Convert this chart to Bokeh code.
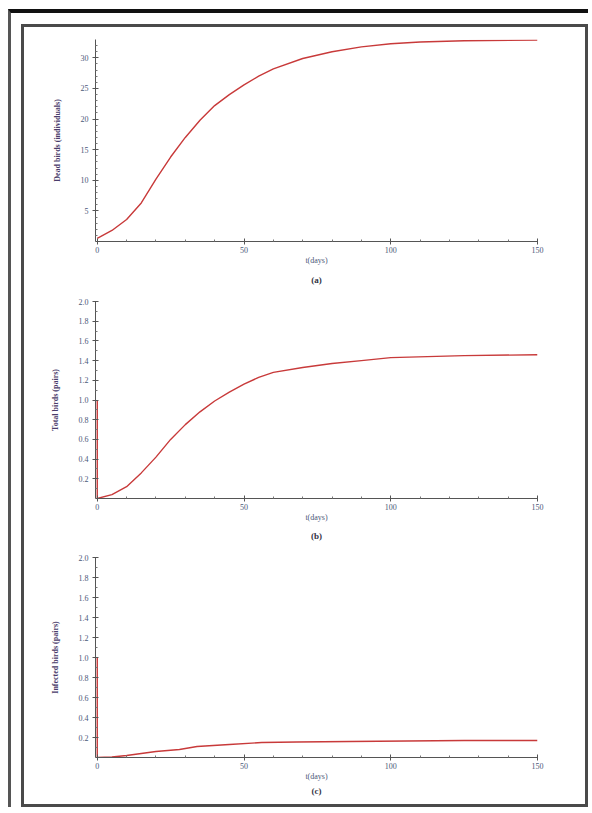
from bokeh.embed import file_html
from bokeh.resources import INLINE
from bokeh.layouts import column
from bokeh.models import Range1d, FixedTicker, Title, PrintfTickFormatter
from bokeh.plotting import figure

# data (t in days)
t_a = [0, 5, 10, 15, 20, 25, 30, 35, 40, 45, 50, 55, 60, 70, 80, 90, 100, 110, 125, 150]
y_a = [0.5, 1.8, 3.6, 6.3, 10.2, 13.8, 17.0, 19.8, 22.2, 24.0, 25.6, 27.0, 28.2, 29.9, 31.0, 31.8, 32.3, 32.6, 32.8, 32.9]

t_b = [0, 0, 5, 10, 15, 20, 25, 30, 35, 40, 45, 50, 55, 60, 70, 80, 90, 100, 125, 150]
y_b = [1.0, 0.0, 0.04, 0.12, 0.26, 0.42, 0.6, 0.75, 0.88, 0.99, 1.08, 1.16, 1.23, 1.28, 1.33, 1.37, 1.4, 1.43, 1.45, 1.46]

t_c = [0, 0, 5, 10, 15, 20, 28, 34, 45, 56, 68, 86, 125, 150]
y_c = [1.0, 0.0, 0.005, 0.02, 0.04, 0.06, 0.08, 0.11, 0.13, 0.15, 0.155, 0.16, 0.17, 0.17]

x_ticks = [0, 50, 100, 150]
x_minor = [10, 20, 30, 40, 60, 70, 80, 90, 110, 120, 130, 140]
ya_ticks = [5, 10, 15, 20, 25, 30]
ya_minor = [1, 2, 3, 4, 6, 7, 8, 9, 11, 12, 13, 14, 16, 17, 18, 19, 21, 22, 23, 24, 26, 27, 28, 29, 31, 32]
yb_ticks = [0.2, 0.4, 0.6, 0.8, 1.0, 1.2, 1.4, 1.6, 1.8, 2.0]
yb_minor = [0.1, 0.3, 0.5, 0.7, 0.9, 1.1, 1.3, 1.5, 1.7, 1.9]

ylabels = ["Dead birds (individuals)", "Total birds (pairs)", "Infected birds (pairs)"]
captions = ["(a)", "(b)", "(c)"]

FONT = "Liberation Serif"
RED = "#c83a3a"


def panel(t, y, ymax, yt, ymin_t, fmt, ylab, cap, h, top, left, bottom, cap_gap):
    p = figure(width=561, height=h, x_range=Range1d(-0.6, 150), y_range=Range1d(0, ymax),
               output_backend="svg", toolbar_location=None,
               min_border_left=left, min_border_right=48,
               min_border_top=top, min_border_bottom=bottom)
    p.outline_line_color = None
    p.grid.visible = False
    p.background_fill_color = "white"
    p.border_fill_color = "white"

    p.line(t, y, line_color=RED, line_width=1.4)

    p.xaxis.ticker = FixedTicker(ticks=x_ticks, minor_ticks=x_minor)
    p.yaxis.ticker = FixedTicker(ticks=yt, minor_ticks=ymin_t)
    p.yaxis.formatter = PrintfTickFormatter(format=fmt)
    for ax in (p.xaxis, p.yaxis):
        ax.axis_line_color = "#555555"
        ax.major_tick_line_color = "#555555"
        ax.minor_tick_line_color = "#777777"
        ax.major_tick_in = 3
        ax.major_tick_out = 3
        ax.minor_tick_in = 2
        ax.minor_tick_out = 0
        ax.major_label_text_font = FONT
        ax.major_label_text_font_size = "8px"
        ax.major_label_text_color = "#4a5878"
        ax.axis_label_text_font = FONT
        ax.axis_label_text_font_size = "8px"
        ax.axis_label_text_font_style = "normal"
    p.xaxis.major_label_standoff = 2
    p.xaxis.axis_label = "t(days)"
    p.xaxis.axis_label_standoff = 0
    p.xaxis.axis_label_text_color = "#4a5878"
    p.yaxis.major_label_standoff = 4
    p.yaxis.axis_label = ylab
    p.yaxis.axis_label_standoff = 16
    p.yaxis.axis_label_text_color = "#4a3c6a"
    p.yaxis.axis_label_text_font_style = "bold"

    p.add_layout(Title(text=cap, align="center", text_font=FONT, text_font_size="9px",
                       text_font_style="bold", text_color="#333344", standoff=cap_gap), "below")
    return p


pa = panel(t_a, y_a, 33, ya_ticks, ya_minor, "%d", ylabels[0], captions[0], 262, 12, 68, 45, 10)
pb = panel(t_b, y_b, 2.0, yb_ticks, yb_minor, "%.1f", ylabels[1], captions[1], 255, 12, 71, 44, 8)
pc = panel(t_c, y_c, 2.0, yb_ticks, yb_minor, "%.1f", ylabels[2], captions[2], 260, 13, 71, 47, 0)

inner = column(pa, pb, pc, spacing=0, styles={"border": "3px solid #4a4a4a", "background": "white"})
page = column(inner, styles={"border-top": "4px solid #111111", "border-left": "3px solid #555555",
                             "padding-top": "11px", "padding-left": "10px",
                             "margin-top": "9px", "margin-left": "8px"})

open("out.html", "w").write(file_html(page, INLINE))
